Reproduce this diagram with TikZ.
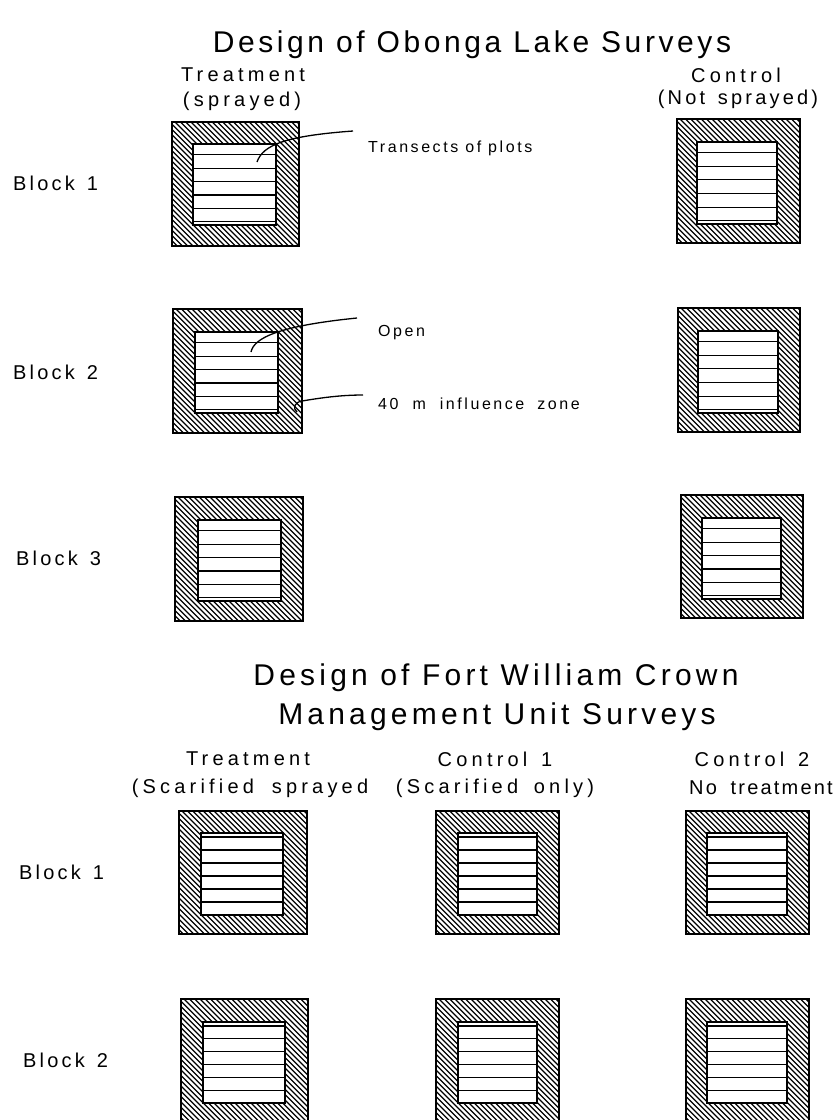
\documentclass[tikz,border=0pt]{standalone}
\usepackage{fontspec}
\setmainfont{Liberation Sans}
\newfontfamily\ttlfont[LetterSpace=12]{Liberation Sans}
\newfontfamily\ttlwide[LetterSpace=14]{Liberation Sans}
\newfontfamily\hdfont[LetterSpace=21]{Liberation Sans}
\newfontfamily\hdtight[LetterSpace=11]{Liberation Sans}
\newfontfamily\spfont[LetterSpace=16]{Liberation Sans}
\usetikzlibrary{calc}

\tikzset{
  outerbox/.style={draw=black,line width=2.4pt},
  innerbox/.style={draw=black,fill=white,line width=1.9pt},
  hatchline/.style={line width=1.25pt},
  stripline/.style={line width=1.3pt},
  leader/.style={line width=1.3pt},
  titletext/.style={font=\ttlfont\fontsize{30}{34}\selectfont,inner sep=0pt},
  titlewide/.style={font=\ttlwide\fontsize{30}{34}\selectfont,inner sep=0pt},
  headtext/.style={font=\hdfont\fontsize{20}{24}\selectfont,inner sep=0pt},
  headmid/.style={font=\spfont\fontsize{20}{24}\selectfont,inner sep=0pt},
  headtight/.style={font=\hdtight\fontsize{20}{24}\selectfont,inner sep=0pt},
  blocktext/.style={font=\spfont\fontsize{20}{24}\selectfont,inner sep=0pt,anchor=west},
  notetext/.style={font=\spfont\fontsize{16}{19}\selectfont,inner sep=0pt,anchor=west},
}

\newcommand\hatchbox[5]{%
  \coordinate (#1-nw) at (#2,#3);
  \coordinate (#1-se) at (#4,#5);
  \begin{scope}
    \clip (#1-nw) rectangle (#1-se);
    \foreach \hk in {-140,-134.7,...,135}
      \draw[hatchline] ({#2+\hk},#3) -- ++(150,150);
  \end{scope}
  \draw[outerbox] (#1-nw) rectangle (#1-se);
}
\newcommand\stripsA[5]{%
  \coordinate (#1-inw) at (#2,#3);
  \coordinate (#1-ise) at (#4,#5);
  \draw[innerbox] (#1-inw) rectangle (#1-ise);
  \foreach \ff in {0.13,0.30,0.46,0.63,0.80,0.96}
    \draw[stripline] (#2,{#3+\ff*(#5-#3)}) -- (#4,{#3+\ff*(#5-#3)});
}
\newcommand\stripsB[5]{%
  \coordinate (#1-inw) at (#2,#3);
  \coordinate (#1-ise) at (#4,#5);
  \draw[innerbox] (#1-inw) rectangle (#1-ise);
  \foreach \ff in {0,...,5}
    \draw[stripline] (#2,{#3+4+\ff*(#5-#3-4)/6}) -- (#4,{#3+4+\ff*(#5-#3-4)/6});
}

\begin{document}
\begin{tikzpicture}[x=1pt,y=-1pt]
\useasboundingbox (0,0) rectangle (839,1120);

% ---- Obonga Lake ----
\node[titletext] (t1) at (472,45) {Design of Obonga Lake Surveys};
\node[headtext] (h1a) at (243,75) {Treatment};
\node[headtext] (h1b) at (242,101) {(sprayed)};
\node[headtext] (h2a) at (736,75) {Control};
\node[headmid] (h2b) at (738,99) {(Not\hspace{4pt} sprayed)};

\node[blocktext] (b1) at (13,183) {Block\hspace{12pt}1};
\node[blocktext] (b2) at (13,372) {Block\hspace{12pt}2};
\node[blocktext] (b3) at (16,558) {Block\hspace{12pt}3};

\hatchbox{T1}{172}{122}{299}{246} \stripsA{T1}{193}{144}{276}{225}
\hatchbox{C1}{677}{119}{800}{243} \stripsA{C1}{697}{142}{777}{224}
\hatchbox{T2}{173}{309}{302}{433} \stripsA{T2}{195}{332}{278}{413}
\hatchbox{C2}{678}{308}{800}{432} \stripsA{C2}{698}{331}{778}{413}
\hatchbox{T3}{175}{497}{303}{621} \stripsA{T3}{198}{520}{281}{601}
\hatchbox{C3}{681}{495}{803}{618} \stripsA{C3}{702}{518}{781}{599}

\node[notetext] (n1) at (368,148) {Transects of plots};
\coordinate (p1) at (257,162);
\coordinate (e1) at (353,131);
\draw[leader] (p1) .. controls (263,145) and (285,136) .. (e1);

\node[notetext] (n2) at (378,333) {Open};
\coordinate (p2) at (251,352);
\coordinate (e2) at (357,318);
\draw[leader] (p2) .. controls (254,338) and (278,326) .. (e2);

\node[notetext] (n3) at (378,404) {40\hspace{7pt} m\hspace{7pt} influence\hspace{6pt} zone};
\coordinate (p3) at (297,412);
\coordinate (e3) at (363,395);
\draw[leader] (p3) .. controls (292,408) and (295,402) .. (302,401) .. controls (320,398) and (340,395) .. (e3);

% ---- Fort William ----
\node[titlewide] (t2a) at (496,678) {Design of Fort William Crown};
\node[titlewide] (t2b) at (497,717) {Management Unit Surveys};
\node[headtext] (g1a) at (248,759) {Treatment};
\node[headtext] (g1b) at (250,788) {(Scarified\hspace{8pt} sprayed};
\node[headtext] (g2a) at (495,759) {Control\hspace{4pt} 1};
\node[headtext] (g2b) at (495,788) {(Scarified\hspace{6pt} only)};
\node[headtext] (g3a) at (752,759) {Control\hspace{4pt} 2};
\node[headtight] (g3b) at (761,788) {No\hspace{6pt} treatment};

\node[blocktext] (d1) at (19,872) {Block\hspace{12pt}1};
\node[blocktext] (d2) at (23,1060) {Block\hspace{12pt}2};

\hatchbox{U1}{179}{811}{307}{934} \stripsB{U1}{201}{833}{283}{915}
\hatchbox{V1}{436}{811}{559}{934} \stripsB{V1}{458}{833}{537}{915}
\hatchbox{W1}{686}{811}{809}{934} \stripsB{W1}{707}{833}{787}{915}
\hatchbox{U2}{181}{999}{308}{1124} \stripsB{U2}{203}{1022}{285}{1103}
\hatchbox{V2}{436}{999}{559}{1124} \stripsB{V2}{458}{1022}{537}{1103}
\hatchbox{W2}{686}{999}{809}{1124} \stripsB{W2}{707}{1022}{787}{1103}
\end{tikzpicture}
\end{document}
